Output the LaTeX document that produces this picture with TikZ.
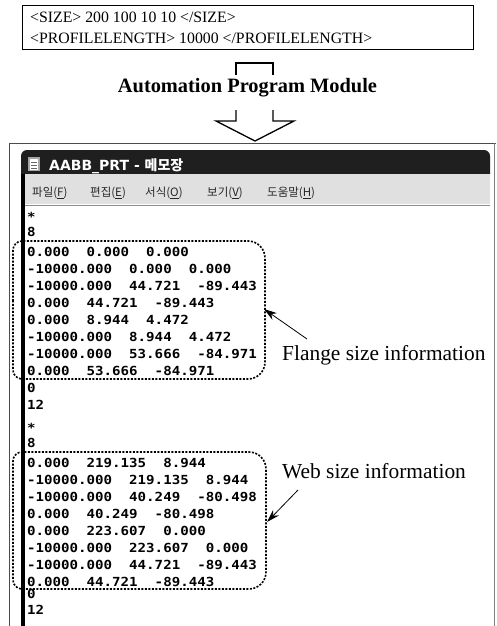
\documentclass[tikz,border=0pt]{standalone}
\usepackage{fontspec}
\setmainfont{Liberation Serif}
\newfontfamily\codefont[FakeStretch=1.13]{DejaVu Sans Mono}
\newfontfamily\krfont{Noto Sans CJK KR}
\newfontfamily\titlefont{DejaVu Sans}
\usetikzlibrary{arrows.meta}
\begin{document}
\begin{tikzpicture}[x=1pt,y=-1pt,
  code/.style={anchor=base west, inner sep=0pt, font=\codefont\bfseries\fontsize{12.5}{14}\selectfont},
  xmltext/.style={anchor=base west, inner sep=0pt, font=\fontsize{15.8}{18}\selectfont},
  infolabel/.style={anchor=base west, inner sep=0pt, font=\fontsize{21.4}{24}\selectfont},
  menuitem/.style={anchor=base west, inner sep=0pt, text=black!85, font=\krfont\fontsize{11.5}{13}\selectfont},
  dbox/.style={line width=1.6pt, dash pattern=on 2pt off 1.5pt},
  pointer/.style={line width=0.8pt, -{Stealth[length=13pt,width=8pt]}},
  blockarrow/.style={line width=1.3pt, line join=miter},
]
\useasboundingbox (0,0) rectangle (496,626);
% top xml box
\node[draw, line width=0.8pt, minimum width=451pt, minimum height=44pt, inner sep=0pt] (xml) at (247.5,27) {};
\node[xmltext] (xml1) at (30,22.5) {<SIZE> 200 100 10 10 </SIZE>};
\node[xmltext] (xml2) at (30,43.5) {<PROFILELENGTH> 10000 </PROFILELENGTH>};
% module
\draw[blockarrow] (236,75) -- (236,63) -- (273,63) -- (273,75);
\node[inner sep=0pt, font=\bfseries\fontsize{20.4}{24}\selectfont] (apm) at (247.5,88) {Automation Program Module};
\draw[blockarrow] (236,110) -- (236,121) -- (216,121) -- (255,141) -- (294,121) -- (273,121) -- (273,110);
% outer frame
\draw[black!70, line width=0.7pt] (9,626) -- (9,143) -- (496,143);
\draw[black!50, line width=0.6pt] (494,143) -- (494,626);
% title bar
\fill[black!88, rounded corners=6pt] (21,174) -- (21,150) -- (490,150) [sharp corners] -- (490,174) -- cycle;
\fill[black!35] (28,157) rectangle (40,171);
\fill[white] (30,159) rectangle (38,170);
\foreach \yy in {162,165,168} \draw[black!60, line width=0.8pt] (31,\yy) -- (37,\yy);
\node[anchor=base west, inner sep=0pt, text=white] (title) at (49,170) {\titlefont\bfseries\fontsize{14}{16}\selectfont AABB\_PRT - {\krfont\fontsize{14}{16}\selectfont 메모장}};
% menu bar
\fill[black!12] (21,174) rectangle (490,204);
\draw[black!45, line width=0.8pt] (21,205) -- (490,205);
\node[menuitem] (m1) at (32,196.5) {파일(\underline{F})};
\node[menuitem] (m2) at (90,196.5) {편집(\underline{E})};
\node[menuitem] (m3) at (145,196.5) {서식(\underline{O})};
\node[menuitem] (m4) at (207,196.5) {보기(\underline{V})};
\node[menuitem] (m5) at (267,196.5) {도움말(\underline{H})};
% dashed boxes
\draw[dbox] (13,310) [rounded corners=9pt] -- (13,241) [rounded corners=17pt] -- (265,241) -- (265,379) [rounded corners=9pt] -- (13,379) -- cycle;
\draw[dbox] (13,520) [rounded corners=9pt] -- (13,452) [rounded corners=17pt] -- (266,452) -- (266,589) [rounded corners=9pt] -- (13,589) -- cycle;
% left thick bar
\fill[black] (21,174) rectangle (25,626);
% block 1
\node[code] (a0) at (27,221) {*};
\node[code] (a1) at (27,236.5) {8};
\node[code] (a2) at (27,256.5) {0.000~~0.000~~0.000};
\node[code] (a3) at (27,273.5) {-10000.000~~0.000~~0.000};
\node[code] (a4) at (27,290.5) {-10000.000~~44.721~~-89.443};
\node[code] (a5) at (27,307.5) {0.000~~44.721~~-89.443};
\node[code] (a6) at (27,324.5) {0.000~~8.944~~4.472};
\node[code] (a7) at (27,341.5) {-10000.000~~8.944~~4.472};
\node[code] (a8) at (27,358.5) {-10000.000~~53.666~~-84.971};
\node[code] (a9) at (27,375.5) {0.000~~53.666~~-84.971};
\node[code] (a10) at (27,392.5) {0};
\node[code] (a11) at (27,409.5) {12};
% block 2
\node[code] (b0) at (27,432) {*};
\node[code] (b1) at (27,447.5) {8};
\node[code] (b2) at (27,467.5) {0.000~~219.135~~8.944};
\node[code] (b3) at (27,484.5) {-10000.000~~219.135~~8.944};
\node[code] (b4) at (27,501.5) {-10000.000~~40.249~~-80.498};
\node[code] (b5) at (27,518.5) {0.000~~40.249~~-80.498};
\node[code] (b6) at (27,535.5) {0.000~~223.607~~0.000};
\node[code] (b7) at (27,552.5) {-10000.000~~223.607~~0.000};
\node[code] (b8) at (27,569.5) {-10000.000~~44.721~~-89.443};
\node[code] (b9) at (27,586.5) {0.000~~44.721~~-89.443};
\node[code] (b10) at (27,598.5) {0};
\node[code] (b11) at (27,614.5) {12};
% labels
\node[infolabel] (flange) at (282,360) {Flange size information};
\node[infolabel] (web) at (282,478) {Web size information};
\coordinate (ftail) at (307,339);
\coordinate (ftip) at (264,309);
\coordinate (wtail) at (298,490);
\coordinate (wtip) at (267,522);
\draw[pointer] (ftail) -- (ftip);
\draw[pointer] (wtail) -- (wtip);
\end{tikzpicture}
\end{document}
